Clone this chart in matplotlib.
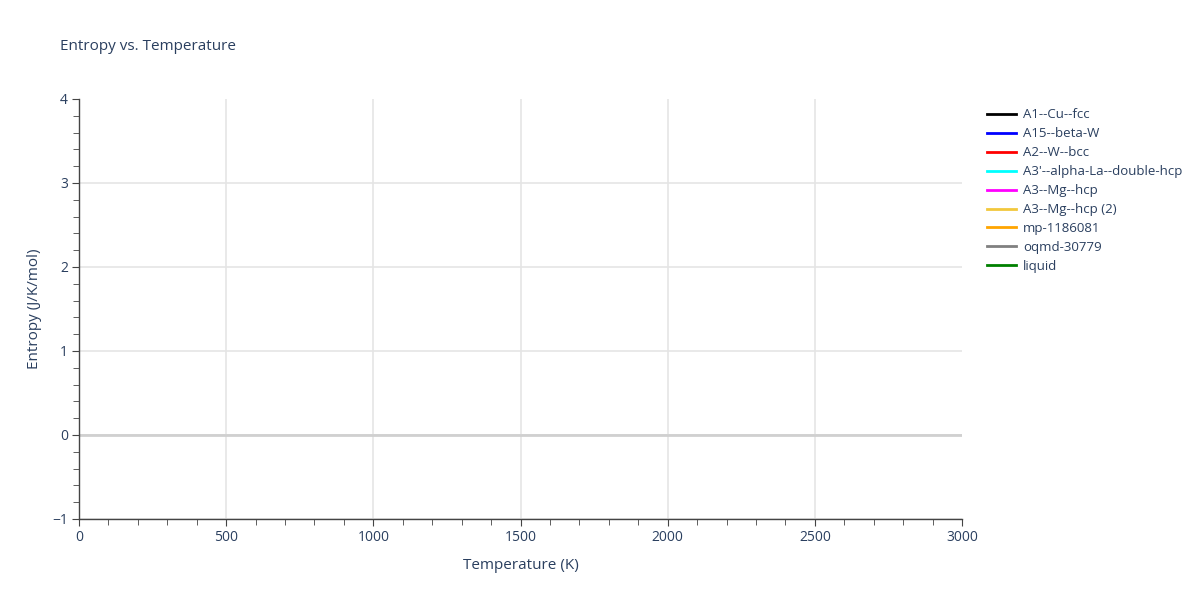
import matplotlib.pyplot as plt
from matplotlib.ticker import MultipleLocator

plt.rcParams['font.family'] = ['Open Sans', 'DejaVu Sans']

# phases in the legend (the figure has no data points drawn)
phases = ['A1--Cu--fcc', 'A15--beta-W', 'A2--W--bcc', "A3'--alpha-La--double-hcp",
          'A3--Mg--hcp', 'A3--Mg--hcp (2)', 'mp-1186081', 'oqmd-30779', 'liquid']
colors = ['black', 'blue', 'red', 'cyan', 'magenta', '#f2c83c', 'orange', 'gray', 'green']
temperature = {p: [] for p in phases}
entropy = {p: [] for p in phases}

x_ticks = [0, 500, 1000, 1500, 2000, 2500, 3000]
y_ticks = [-1, 0, 1, 2, 3, 4]

txt = '#2a3f5f'
fig = plt.figure(figsize=(12, 6), dpi=100)
ax = fig.add_axes([79 / 1200, 81 / 600, 883 / 1200, 420 / 600])

for p, c in zip(phases, colors):
    ax.plot(temperature[p], entropy[p], color=c, linewidth=2, label=p)

ax.set_xlim(0, 3000)
ax.set_ylim(-1, 4)
ax.set_xticks(x_ticks)
ax.set_yticks(y_ticks)
ax.xaxis.set_minor_locator(MultipleLocator(100))
ax.yaxis.set_minor_locator(MultipleLocator(0.2))
ax.grid(True, which='major', color='#e5e5e5', linewidth=1.2)
# no grid lines on the outer edges
ax.xaxis.get_gridlines()[-1].set_visible(False)
ax.yaxis.get_gridlines()[-1].set_visible(False)
ax.axhline(0, color='#d0d0d0', linewidth=2, zorder=1)
ax.set_axisbelow(True)

for s in ['top', 'right']:
    ax.spines[s].set_visible(False)
for s in ['left', 'bottom']:
    ax.spines[s].set_color('#444444')
    ax.spines[s].set_linewidth(1)

ax.tick_params(which='major', length=5, color='#444444', labelsize=10, labelcolor=txt, pad=3)
ax.tick_params(which='minor', length=4, color='#444444')

ax.set_xlabel('Temperature (K)', fontsize=11, color=txt, labelpad=9)
ax.set_ylabel('Entropy (J/K/mol)', fontsize=11, color=txt, labelpad=7)
fig.text(60 / 1200, 1 - 46 / 600, 'Entropy vs. Temperature', fontsize=11, color=txt, va='center')

leg = ax.legend(loc='upper left', bbox_to_anchor=(1.022, 0.99), frameon=False,
                fontsize=9.5, handlelength=2.2, handletextpad=0.55, labelspacing=0.45,
                borderaxespad=0)
for t in leg.get_texts():
    t.set_color(txt)

plt.savefig('out.png')
